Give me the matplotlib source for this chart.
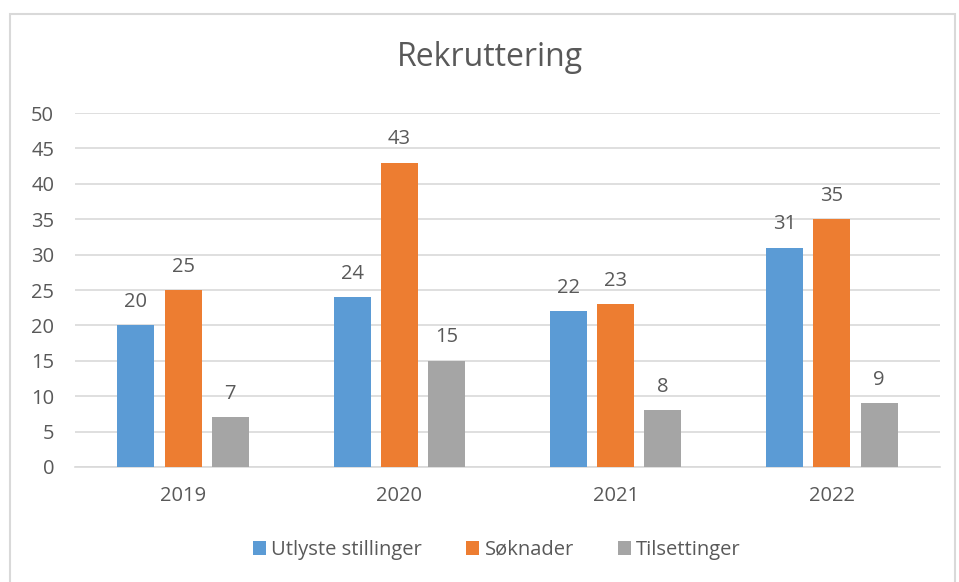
import matplotlib.pyplot as plt
import numpy as np
from matplotlib.patches import Rectangle

years = ["2019", "2020", "2021", "2022"]
series_names = ["Utlyste stillinger", "Søknader", "Tilsettinger"]
utlyste = [20, 24, 22, 31]
soknader = [25, 43, 23, 35]
tilsettinger = [7, 15, 8, 9]
y_ticks = list(range(0, 51, 5))

colors = ["#5B9BD5", "#ED7D31", "#A5A5A5"]
text_color = "#595959"
fs = 14.5

plt.rcParams['font.family'] = ['Open Sans', 'DejaVu Sans']

fig = plt.figure(figsize=(9.59, 5.82), dpi=100)
ax = fig.add_axes([75 / 959, 1 - 467 / 582, 865 / 959, 354 / 582])

# chart frame like the office export
fig.patches.append(Rectangle((10 / 959, -0.01), 945 / 959, 1 - 14 / 582 + 0.01,
                             transform=fig.transFigure, fill=False,
                             edgecolor="#D9D9D9", linewidth=1.5))

x = np.arange(len(years))
width = 0.171
step = 0.218
for i, (vals, name) in enumerate(zip([utlyste, soknader, tilsettinger], series_names)):
    pos = x + (i - 1) * step
    bars = ax.bar(pos, vals, width, color=colors[i], label=name, zorder=3)
    for b, v in zip(bars, vals):
        ax.text(b.get_x() + b.get_width() / 2, v + 1.9, str(v), ha='center', va='bottom',
                fontsize=fs, color=text_color)

ax.set_xlim(-0.5, len(years) - 0.5)
ax.set_ylim(0, 50)
ax.set_yticks(y_ticks)
ax.set_yticklabels([str(t) for t in y_ticks])
ax.set_xticks(x)
ax.set_xticklabels(years)
ax.yaxis.grid(True, color="#D9D9D9", linewidth=1.2, zorder=0)
ax.set_axisbelow(True)
for s in ['top', 'right', 'left']:
    ax.spines[s].set_visible(False)
ax.spines['bottom'].set_color("#D9D9D9")
ax.spines['bottom'].set_linewidth(1.2)
ax.tick_params(axis='both', length=0, labelsize=fs, labelcolor=text_color)
ax.tick_params(axis='y', pad=15)
ax.tick_params(axis='x', pad=14)

fig.text(490 / 959, 1 - 58 / 582, "Rekruttering", ha='center', va='center', fontsize=23,
         color=text_color)

leg = fig.legend(loc='center', bbox_to_anchor=(497 / 959, 1 - 550 / 582), ncol=3,
                 frameon=False, fontsize=fs, handlelength=0.65, handleheight=0.65,
                 handletextpad=0.25, columnspacing=2.2)
for t in leg.get_texts():
    t.set_color(text_color)

fig.savefig("out.png", dpi=100)
